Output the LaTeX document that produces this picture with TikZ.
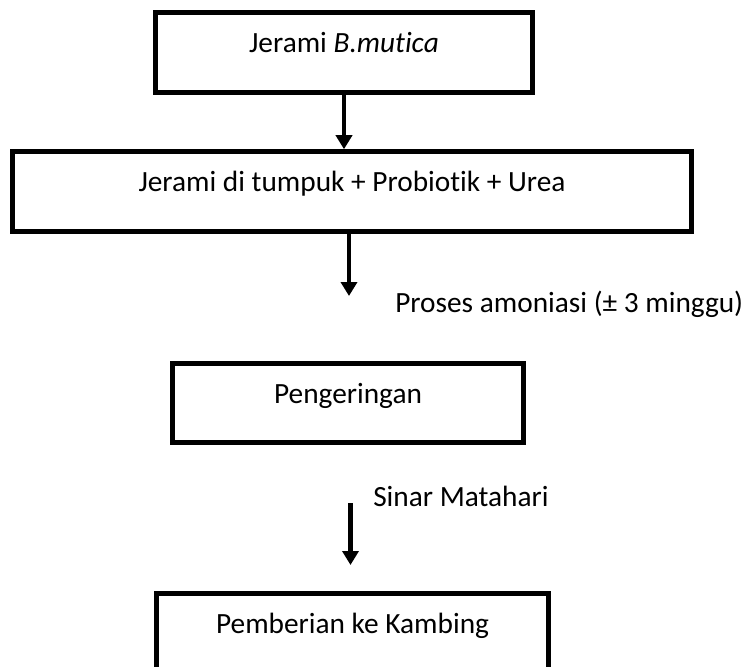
\documentclass[tikz,border=0pt]{standalone}
\usepackage{fontspec}
\setmainfont[Ligatures={NoCommon}]{Carlito}
\usepackage{tikz}
\usetikzlibrary{positioning, arrows.meta}
\def\px{0.75}
\tikzset{
  stepbox/.style={draw=black, line width=3.4pt, fill=white, inner sep=0pt, align=center,
    font=\fontsize{22}{26}\selectfont, text height=16pt, text depth=16pt},
  flowarrow/.style={-{Triangle[width=12pt,length=10.5pt]}, line width=3.4pt, black},
  sidelabel/.style={anchor=base west, inner sep=0pt, font=\fontsize{22}{26}\selectfont},
}
\begin{document}
\begin{tikzpicture}[x=0.75pt, y=-0.75pt]
  \useasboundingbox (0,0) rectangle (743,667);
  \clip (0,0) rectangle (743,667);
  \node[stepbox, minimum width={377*\px pt}, minimum height={80*\px pt}] (jerami) at (344,52.5) {Jerami \textit{B.mutica}};
  \node[stepbox, minimum width={679*\px pt}, minimum height={80*\px pt}] (tumpuk) at (352,191.5) {Jerami di tumpuk + Probiotik + Urea};
  \node[stepbox, minimum width={351*\px pt}, minimum height={79*\px pt}] (kering) at (348,403) {Pengeringan};
  \node[stepbox, minimum width={392*\px pt}, minimum height={80*\px pt}] (kambing) at (352.5,633.5) {Pemberian ke Kambing};
  \coordinate (amoniasiend) at (349,296);
  \coordinate (sinarstart) at (350.5,503);
  \coordinate (sinarend) at (350.5,565);
  \draw[flowarrow] (jerami.south) -- (jerami.south |- tumpuk.north);
  \draw[flowarrow] (tumpuk.south -| amoniasiend) -- (amoniasiend);
  \draw[flowarrow] (sinarstart) -- (sinarend);
  \node[sidelabel] (amoniasi) at (395,312) {Proses amoniasi (± 3 minggu)};
  \node[sidelabel] (sinar) at (373,506) {Sinar Matahari};
\end{tikzpicture}
\end{document}
